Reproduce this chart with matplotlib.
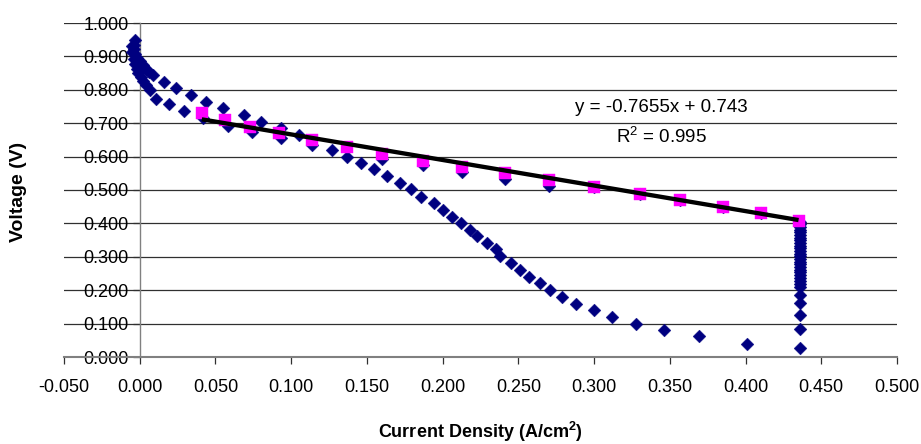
import matplotlib
matplotlib.use("Agg")
import matplotlib.pyplot as plt
from matplotlib.ticker import FormatStrFormatter
import numpy as np

plt.rcParams['font.family'] = ['Liberation Sans', 'DejaVu Sans']
plt.rcParams['mathtext.fontset'] = 'custom'
plt.rcParams['mathtext.rm'] = 'Liberation Sans'
plt.rcParams['mathtext.it'] = 'Liberation Sans:italic'
plt.rcParams['mathtext.bf'] = 'Liberation Sans:bold'
plt.rcParams['axes.unicode_minus'] = False

# ---- data: full polarisation sweep (navy diamonds) ----
sweep_x = [-0.003, -0.004, -0.004, -0.003, -0.002, 0.000, 0.002, 0.004, 0.006, 0.009,
           0.016, 0.024, 0.034, 0.044, 0.055, 0.069, 0.080, 0.093, 0.105, 0.127,
           0.137, 0.146, 0.155, 0.163, 0.172, 0.179, 0.186, 0.194, 0.200, 0.206,
           0.212, 0.218, 0.223, 0.229, 0.235, 0.238, 0.245, 0.251, 0.257, 0.264,
           0.271, 0.279, 0.288, 0.300, 0.312, 0.328, 0.346, 0.369, 0.401,
           -0.005, -0.005, -0.004, -0.003, -0.002, -0.001, 0.001, 0.002, 0.004, 0.0065,
           0.011, 0.019, 0.029, 0.042, 0.058, 0.074, 0.093, 0.114, 0.160, 0.187,
           0.213, 0.241, 0.270, 0.300, 0.330, 0.357, 0.385, 0.410,
           0.436, 0.436, 0.436, 0.436, 0.436, 0.436, 0.436, 0.436, 0.436, 0.436,
           0.436, 0.436, 0.436, 0.436, 0.436, 0.436, 0.436, 0.436, 0.436, 0.436,
           0.436, 0.436, 0.436, 0.436, 0.436, 0.436, 0.436, 0.436, 0.436, 0.436]
sweep_y = [0.948, 0.935, 0.921, 0.908, 0.896, 0.885, 0.874, 0.862, 0.852, 0.843,
           0.823, 0.804, 0.783, 0.764, 0.745, 0.725, 0.705, 0.687, 0.665, 0.621,
           0.600, 0.582, 0.562, 0.542, 0.522, 0.502, 0.480, 0.460, 0.441, 0.420,
           0.400, 0.381, 0.362, 0.342, 0.322, 0.303, 0.281, 0.260, 0.240, 0.221,
           0.200, 0.180, 0.160, 0.142, 0.121, 0.100, 0.081, 0.062, 0.040,
           0.930, 0.912, 0.892, 0.876, 0.862, 0.850, 0.838, 0.826, 0.814, 0.800,
           0.772, 0.757, 0.738, 0.715, 0.693, 0.673, 0.655, 0.635, 0.594, 0.575,
           0.553, 0.532, 0.512, 0.508, 0.489, 0.470, 0.450, 0.430,
           0.405, 0.397, 0.389, 0.381, 0.373, 0.365, 0.357, 0.349, 0.341, 0.333,
           0.325, 0.317, 0.309, 0.301, 0.293, 0.285, 0.277, 0.269, 0.261, 0.253,
           0.245, 0.237, 0.228, 0.219, 0.210, 0.187, 0.162, 0.125, 0.085, 0.027]

# ---- data: points used for the linear fit (magenta squares) ----
fit_x = [0.041, 0.056, 0.0725, 0.092, 0.114, 0.137, 0.160, 0.187, 0.213, 0.241,
         0.270, 0.300, 0.330, 0.357, 0.385, 0.410, 0.435]
fit_y = [0.732, 0.710, 0.690, 0.670, 0.650, 0.628, 0.609, 0.588, 0.569, 0.550,
         0.530, 0.508, 0.489, 0.470, 0.450, 0.430, 0.408]

slope = -0.7655
intercept = 0.743
r_squared = 0.995

x_ticks = [-0.05, 0.0, 0.05, 0.10, 0.15, 0.20, 0.25, 0.30, 0.35, 0.40, 0.45, 0.50]
y_ticks = [0.0, 0.1, 0.2, 0.3, 0.4, 0.5, 0.6, 0.7, 0.8, 0.9, 1.0]

fig = plt.figure(figsize=(9.21, 4.44), dpi=100)
ax = fig.add_axes([64/921, 1-357/444, (897-64)/921, (357-23)/444])

ax.set_xlim(-0.05, 0.5)
ax.set_ylim(0.0, 1.0)
ax.set_xticks(x_ticks)
ax.set_yticks(y_ticks)
ax.xaxis.set_major_formatter(FormatStrFormatter('%.3f'))
ax.yaxis.set_major_formatter(FormatStrFormatter('%.3f'))

ax.grid(True, axis='y', color='#303030', linewidth=0.9)
ax.set_axisbelow(True)

for s in ['top', 'right']:
    ax.spines[s].set_visible(False)
ax.spines['left'].set_position(('data', 0.0))
ax.spines['left'].set_color('#808080')
ax.spines['left'].set_linewidth(1.0)
ax.spines['bottom'].set_color('#808080')
ax.spines['bottom'].set_linewidth(1.5)

ax.tick_params(axis='both', direction='out', length=5, width=0.9, color='#303030',
               labelsize=13)
ax.tick_params(axis='y', pad=3)
ax.tick_params(axis='x', pad=11)

ax.scatter(sweep_x, sweep_y, marker='D', s=6.5**2, color='#000080',
           edgecolors='#000080', linewidths=0.3, zorder=3, clip_on=False)
ax.scatter(fit_x, fit_y, marker='s', s=8.8**2, color='#FF00FF',
           edgecolors='#FF00FF', linewidths=0.3, zorder=4, clip_on=False)

xl = np.array([min(fit_x), max(fit_x)])
ax.plot(xl, slope*xl + intercept, color='black', linewidth=3.1, zorder=5,
        solid_capstyle='butt')

ax.text(0.3444, 0.746, "y = %.4fx + %.3f" % (slope, intercept), fontsize=13.5,
        ha='center', va='center')
ax.text(0.3444, 0.659, "R$^2$ = %.3f" % r_squared, fontsize=13.5,
        ha='center', va='center')

fig.text(19/921, 1-192/444, "Voltage (V)", rotation=90, fontsize=14,
         fontweight='bold', ha='center', va='center')
fig.text(480/921, 1-432/444, r"Current Density (A/cm$^\mathbf{2}$)", fontsize=13,
         fontweight='bold', ha='center', va='center')

fig.savefig("out.png", dpi=100)
